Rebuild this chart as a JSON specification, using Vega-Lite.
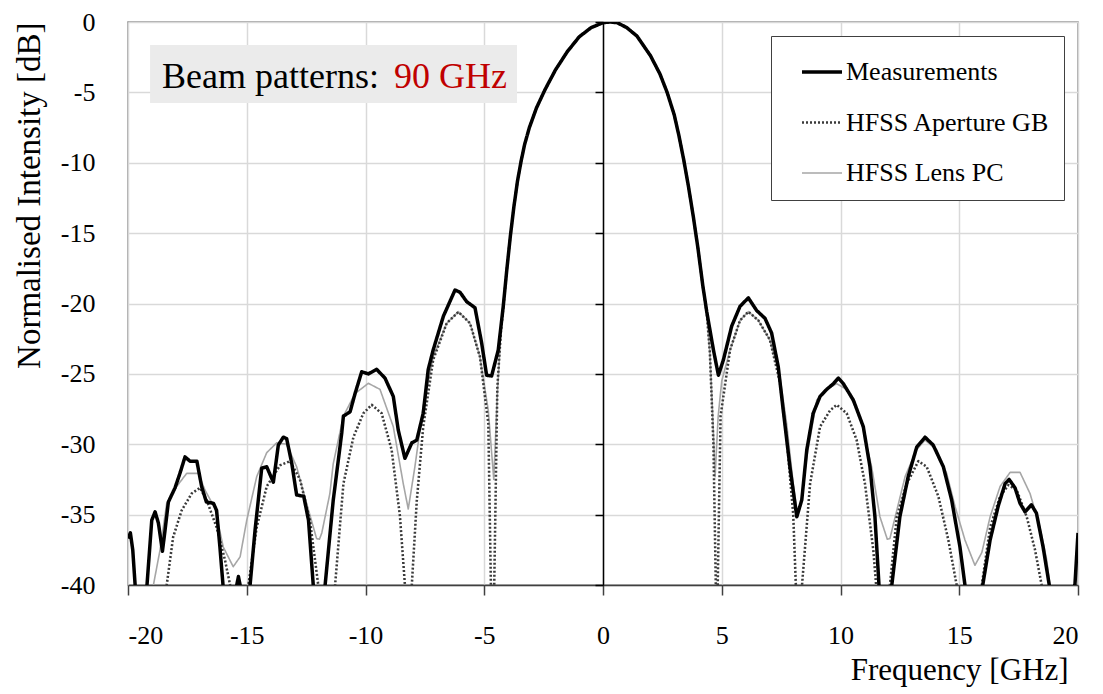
{
  "$schema": "https://vega.github.io/schema/vega-lite/v6.json",
  "width": 950,
  "height": 563,
  "autosize": {"type": "none"},
  "padding": {"left": 128, "top": 22, "right": 25, "bottom": 109},
  "background": "white",
  "config": {"view": {"stroke": "#8c8c8c", "strokeWidth": 1.5}, "font": "Liberation Serif"},
  "layer": [
    {
      "data": {"values": [
        {"f": -19.2, "v": -48, "s": "HFSS Lens PC"},
        {"f": -18.93, "v": -40, "s": "HFSS Lens PC"},
        {"f": -18.65, "v": -37.5, "s": "HFSS Lens PC"},
        {"f": -18.37, "v": -34.2, "s": "HFSS Lens PC"},
        {"f": -17.95, "v": -33.0, "s": "HFSS Lens PC"},
        {"f": -17.53, "v": -32.07, "s": "HFSS Lens PC"},
        {"f": -17.04, "v": -32.07, "s": "HFSS Lens PC"},
        {"f": -16.76, "v": -33.25, "s": "HFSS Lens PC"},
        {"f": -16.34, "v": -34.55, "s": "HFSS Lens PC"},
        {"f": -15.99, "v": -37.3, "s": "HFSS Lens PC"},
        {"f": -15.57, "v": -38.7, "s": "HFSS Lens PC"},
        {"f": -15.28, "v": -38.0, "s": "HFSS Lens PC"},
        {"f": -15.0, "v": -35.4, "s": "HFSS Lens PC"},
        {"f": -14.58, "v": -32.3, "s": "HFSS Lens PC"},
        {"f": -14.16, "v": -30.6, "s": "HFSS Lens PC"},
        {"f": -13.74, "v": -29.9, "s": "HFSS Lens PC"},
        {"f": -13.32, "v": -30.0, "s": "HFSS Lens PC"},
        {"f": -12.9, "v": -31.6, "s": "HFSS Lens PC"},
        {"f": -12.48, "v": -34.2, "s": "HFSS Lens PC"},
        {"f": -12.06, "v": -36.7, "s": "HFSS Lens PC"},
        {"f": -11.94, "v": -36.75, "s": "HFSS Lens PC"},
        {"f": -11.84, "v": -36.3, "s": "HFSS Lens PC"},
        {"f": -11.5, "v": -33.5, "s": "HFSS Lens PC"},
        {"f": -11.36, "v": -31.4, "s": "HFSS Lens PC"},
        {"f": -10.93, "v": -28.0, "s": "HFSS Lens PC"},
        {"f": -10.44, "v": -26.4, "s": "HFSS Lens PC"},
        {"f": -9.88, "v": -25.67, "s": "HFSS Lens PC"},
        {"f": -9.39, "v": -26.1, "s": "HFSS Lens PC"},
        {"f": -8.83, "v": -28.75, "s": "HFSS Lens PC"},
        {"f": -8.41, "v": -32.8, "s": "HFSS Lens PC"},
        {"f": -8.2, "v": -34.6, "s": "HFSS Lens PC"},
        {"f": -7.92, "v": -31.6, "s": "HFSS Lens PC"},
        {"f": -7.57, "v": -27.3, "s": "HFSS Lens PC"},
        {"f": -7.15, "v": -23.8, "s": "HFSS Lens PC"},
        {"f": -6.58, "v": -21.4, "s": "HFSS Lens PC"},
        {"f": -6.09, "v": -20.58, "s": "HFSS Lens PC"},
        {"f": -5.6, "v": -21.4, "s": "HFSS Lens PC"},
        {"f": -5.18, "v": -23.8, "s": "HFSS Lens PC"},
        {"f": -4.83, "v": -27.6, "s": "HFSS Lens PC"},
        {"f": -4.6, "v": -32.5, "s": "HFSS Lens PC"},
        {"f": -4.45, "v": -26.5, "s": "HFSS Lens PC"},
        {"f": -4.3, "v": -22.0, "s": "HFSS Lens PC"},
        {"f": -4.2, "v": -20.3, "s": "HFSS Lens PC"},
        {"f": -4.05, "v": -17.6, "s": "HFSS Lens PC"},
        {"f": -3.9, "v": -15.2, "s": "HFSS Lens PC"},
        {"f": -3.75, "v": -13.1, "s": "HFSS Lens PC"},
        {"f": -3.6, "v": -11.3, "s": "HFSS Lens PC"},
        {"f": -3.45, "v": -9.9, "s": "HFSS Lens PC"},
        {"f": -3.3, "v": -8.7, "s": "HFSS Lens PC"},
        {"f": -3.1, "v": -7.5, "s": "HFSS Lens PC"},
        {"f": -2.8, "v": -6.1, "s": "HFSS Lens PC"},
        {"f": -2.44, "v": -4.8, "s": "HFSS Lens PC"},
        {"f": -2.0, "v": -3.4, "s": "HFSS Lens PC"},
        {"f": -1.5, "v": -2.1, "s": "HFSS Lens PC"},
        {"f": -1.0, "v": -1.05, "s": "HFSS Lens PC"},
        {"f": -0.5, "v": -0.4, "s": "HFSS Lens PC"},
        {"f": 0.0, "v": -0.05, "s": "HFSS Lens PC"},
        {"f": 0.3, "v": 0.0, "s": "HFSS Lens PC"},
        {"f": 0.6, "v": -0.05, "s": "HFSS Lens PC"},
        {"f": 1.0, "v": -0.4, "s": "HFSS Lens PC"},
        {"f": 1.43, "v": -1.0, "s": "HFSS Lens PC"},
        {"f": 2.0, "v": -2.4, "s": "HFSS Lens PC"},
        {"f": 2.4, "v": -3.7, "s": "HFSS Lens PC"},
        {"f": 2.7, "v": -5.0, "s": "HFSS Lens PC"},
        {"f": 3.0, "v": -6.6, "s": "HFSS Lens PC"},
        {"f": 3.2, "v": -8.1, "s": "HFSS Lens PC"},
        {"f": 3.4, "v": -9.8, "s": "HFSS Lens PC"},
        {"f": 3.6, "v": -11.7, "s": "HFSS Lens PC"},
        {"f": 3.8, "v": -13.8, "s": "HFSS Lens PC"},
        {"f": 4.0, "v": -16.1, "s": "HFSS Lens PC"},
        {"f": 4.2, "v": -18.7, "s": "HFSS Lens PC"},
        {"f": 4.37, "v": -20.7, "s": "HFSS Lens PC"},
        {"f": 4.5, "v": -23.5, "s": "HFSS Lens PC"},
        {"f": 4.62, "v": -28.0, "s": "HFSS Lens PC"},
        {"f": 4.72, "v": -32.3, "s": "HFSS Lens PC"},
        {"f": 4.85, "v": -28.0, "s": "HFSS Lens PC"},
        {"f": 5.0, "v": -25.5, "s": "HFSS Lens PC"},
        {"f": 5.35, "v": -23.3, "s": "HFSS Lens PC"},
        {"f": 5.77, "v": -21.2, "s": "HFSS Lens PC"},
        {"f": 6.12, "v": -20.58, "s": "HFSS Lens PC"},
        {"f": 6.54, "v": -21.2, "s": "HFSS Lens PC"},
        {"f": 7.03, "v": -22.6, "s": "HFSS Lens PC"},
        {"f": 7.45, "v": -25.2, "s": "HFSS Lens PC"},
        {"f": 7.73, "v": -28.5, "s": "HFSS Lens PC"},
        {"f": 8.01, "v": -32.8, "s": "HFSS Lens PC"},
        {"f": 8.2, "v": -35.1, "s": "HFSS Lens PC"},
        {"f": 8.35, "v": -34.0, "s": "HFSS Lens PC"},
        {"f": 8.58, "v": -30.9, "s": "HFSS Lens PC"},
        {"f": 9.0, "v": -26.86, "s": "HFSS Lens PC"},
        {"f": 9.42, "v": -26.1, "s": "HFSS Lens PC"},
        {"f": 9.84, "v": -25.7, "s": "HFSS Lens PC"},
        {"f": 10.26, "v": -26.1, "s": "HFSS Lens PC"},
        {"f": 10.82, "v": -28.0, "s": "HFSS Lens PC"},
        {"f": 11.31, "v": -31.6, "s": "HFSS Lens PC"},
        {"f": 11.66, "v": -35.15, "s": "HFSS Lens PC"},
        {"f": 11.97, "v": -36.75, "s": "HFSS Lens PC"},
        {"f": 12.08, "v": -36.7, "s": "HFSS Lens PC"},
        {"f": 12.37, "v": -34.7, "s": "HFSS Lens PC"},
        {"f": 12.72, "v": -32.3, "s": "HFSS Lens PC"},
        {"f": 13.2, "v": -30.4, "s": "HFSS Lens PC"},
        {"f": 13.56, "v": -29.7, "s": "HFSS Lens PC"},
        {"f": 14.05, "v": -30.4, "s": "HFSS Lens PC"},
        {"f": 14.47, "v": -32.07, "s": "HFSS Lens PC"},
        {"f": 14.82, "v": -34.4, "s": "HFSS Lens PC"},
        {"f": 15.24, "v": -36.8, "s": "HFSS Lens PC"},
        {"f": 15.66, "v": -38.6, "s": "HFSS Lens PC"},
        {"f": 15.95, "v": -37.7, "s": "HFSS Lens PC"},
        {"f": 16.3, "v": -35.15, "s": "HFSS Lens PC"},
        {"f": 16.72, "v": -33.0, "s": "HFSS Lens PC"},
        {"f": 17.14, "v": -32.0, "s": "HFSS Lens PC"},
        {"f": 17.56, "v": -32.0, "s": "HFSS Lens PC"},
        {"f": 17.98, "v": -33.5, "s": "HFSS Lens PC"},
        {"f": 18.4, "v": -35.9, "s": "HFSS Lens PC"},
        {"f": 18.68, "v": -38.2, "s": "HFSS Lens PC"},
        {"f": 18.82, "v": -40, "s": "HFSS Lens PC"},
        {"f": 19.1, "v": -48, "s": "HFSS Lens PC"},

        {"f": -18.6, "v": -48, "s": "HFSS Aperture GB"},
        {"f": -18.37, "v": -40, "s": "HFSS Aperture GB"},
        {"f": -18.1, "v": -36.6, "s": "HFSS Aperture GB"},
        {"f": -17.74, "v": -34.7, "s": "HFSS Aperture GB"},
        {"f": -17.32, "v": -33.5, "s": "HFSS Aperture GB"},
        {"f": -16.97, "v": -33.1, "s": "HFSS Aperture GB"},
        {"f": -16.69, "v": -33.96, "s": "HFSS Aperture GB"},
        {"f": -16.27, "v": -35.9, "s": "HFSS Aperture GB"},
        {"f": -15.92, "v": -38.2, "s": "HFSS Aperture GB"},
        {"f": -15.7, "v": -40, "s": "HFSS Aperture GB"},
        {"f": -15.3, "v": -50, "s": "HFSS Aperture GB"},
        {"f": -14.93, "v": -40, "s": "HFSS Aperture GB"},
        {"f": -14.58, "v": -35.9, "s": "HFSS Aperture GB"},
        {"f": -14.16, "v": -33.0, "s": "HFSS Aperture GB"},
        {"f": -13.6, "v": -31.5, "s": "HFSS Aperture GB"},
        {"f": -13.18, "v": -31.2, "s": "HFSS Aperture GB"},
        {"f": -12.76, "v": -32.5, "s": "HFSS Aperture GB"},
        {"f": -12.34, "v": -35.4, "s": "HFSS Aperture GB"},
        {"f": -11.99, "v": -40, "s": "HFSS Aperture GB"},
        {"f": -11.63, "v": -50, "s": "HFSS Aperture GB"},
        {"f": -11.28, "v": -40, "s": "HFSS Aperture GB"},
        {"f": -10.93, "v": -32.8, "s": "HFSS Aperture GB"},
        {"f": -10.51, "v": -29.5, "s": "HFSS Aperture GB"},
        {"f": -10.09, "v": -27.8, "s": "HFSS Aperture GB"},
        {"f": -9.74, "v": -27.2, "s": "HFSS Aperture GB"},
        {"f": -9.32, "v": -27.8, "s": "HFSS Aperture GB"},
        {"f": -8.9, "v": -30.4, "s": "HFSS Aperture GB"},
        {"f": -8.55, "v": -35.1, "s": "HFSS Aperture GB"},
        {"f": -8.34, "v": -40, "s": "HFSS Aperture GB"},
        {"f": -8.2, "v": -50, "s": "HFSS Aperture GB"},
        {"f": -8.05, "v": -40, "s": "HFSS Aperture GB"},
        {"f": -7.84, "v": -34.0, "s": "HFSS Aperture GB"},
        {"f": -7.57, "v": -28.75, "s": "HFSS Aperture GB"},
        {"f": -7.15, "v": -24.0, "s": "HFSS Aperture GB"},
        {"f": -6.58, "v": -21.4, "s": "HFSS Aperture GB"},
        {"f": -6.09, "v": -20.6, "s": "HFSS Aperture GB"},
        {"f": -5.6, "v": -21.4, "s": "HFSS Aperture GB"},
        {"f": -5.18, "v": -23.8, "s": "HFSS Aperture GB"},
        {"f": -4.83, "v": -28.5, "s": "HFSS Aperture GB"},
        {"f": -4.72, "v": -40, "s": "HFSS Aperture GB"},
        {"f": -4.65, "v": -50, "s": "HFSS Aperture GB"},
        {"f": -4.58, "v": -40, "s": "HFSS Aperture GB"},
        {"f": -4.45, "v": -26.0, "s": "HFSS Aperture GB"},
        {"f": -4.3, "v": -22.0, "s": "HFSS Aperture GB"},
        {"f": -4.2, "v": -20.3, "s": "HFSS Aperture GB"},
        {"f": -4.05, "v": -17.6, "s": "HFSS Aperture GB"},
        {"f": -3.9, "v": -15.2, "s": "HFSS Aperture GB"},
        {"f": -3.75, "v": -13.1, "s": "HFSS Aperture GB"},
        {"f": -3.6, "v": -11.3, "s": "HFSS Aperture GB"},
        {"f": -3.45, "v": -9.9, "s": "HFSS Aperture GB"},
        {"f": -3.3, "v": -8.7, "s": "HFSS Aperture GB"},
        {"f": -3.1, "v": -7.5, "s": "HFSS Aperture GB"},
        {"f": -2.8, "v": -6.1, "s": "HFSS Aperture GB"},
        {"f": -2.44, "v": -4.8, "s": "HFSS Aperture GB"},
        {"f": -2.0, "v": -3.4, "s": "HFSS Aperture GB"},
        {"f": -1.5, "v": -2.1, "s": "HFSS Aperture GB"},
        {"f": -1.0, "v": -1.05, "s": "HFSS Aperture GB"},
        {"f": -0.5, "v": -0.4, "s": "HFSS Aperture GB"},
        {"f": 0.0, "v": -0.05, "s": "HFSS Aperture GB"},
        {"f": 0.3, "v": 0.0, "s": "HFSS Aperture GB"},
        {"f": 0.6, "v": -0.05, "s": "HFSS Aperture GB"},
        {"f": 1.0, "v": -0.4, "s": "HFSS Aperture GB"},
        {"f": 1.43, "v": -1.0, "s": "HFSS Aperture GB"},
        {"f": 2.0, "v": -2.4, "s": "HFSS Aperture GB"},
        {"f": 2.4, "v": -3.7, "s": "HFSS Aperture GB"},
        {"f": 2.7, "v": -5.0, "s": "HFSS Aperture GB"},
        {"f": 3.0, "v": -6.6, "s": "HFSS Aperture GB"},
        {"f": 3.2, "v": -8.1, "s": "HFSS Aperture GB"},
        {"f": 3.4, "v": -9.8, "s": "HFSS Aperture GB"},
        {"f": 3.6, "v": -11.7, "s": "HFSS Aperture GB"},
        {"f": 3.8, "v": -13.8, "s": "HFSS Aperture GB"},
        {"f": 4.0, "v": -16.1, "s": "HFSS Aperture GB"},
        {"f": 4.2, "v": -18.7, "s": "HFSS Aperture GB"},
        {"f": 4.37, "v": -20.7, "s": "HFSS Aperture GB"},
        {"f": 4.5, "v": -23.5, "s": "HFSS Aperture GB"},
        {"f": 4.65, "v": -30.0, "s": "HFSS Aperture GB"},
        {"f": 4.75, "v": -40, "s": "HFSS Aperture GB"},
        {"f": 4.79, "v": -50, "s": "HFSS Aperture GB"},
        {"f": 4.83, "v": -40, "s": "HFSS Aperture GB"},
        {"f": 4.95, "v": -28.0, "s": "HFSS Aperture GB"},
        {"f": 5.35, "v": -23.3, "s": "HFSS Aperture GB"},
        {"f": 5.77, "v": -21.2, "s": "HFSS Aperture GB"},
        {"f": 6.12, "v": -20.58, "s": "HFSS Aperture GB"},
        {"f": 6.54, "v": -21.2, "s": "HFSS Aperture GB"},
        {"f": 7.03, "v": -22.6, "s": "HFSS Aperture GB"},
        {"f": 7.45, "v": -25.6, "s": "HFSS Aperture GB"},
        {"f": 7.73, "v": -29.5, "s": "HFSS Aperture GB"},
        {"f": 8.01, "v": -35.0, "s": "HFSS Aperture GB"},
        {"f": 8.12, "v": -40, "s": "HFSS Aperture GB"},
        {"f": 8.25, "v": -50, "s": "HFSS Aperture GB"},
        {"f": 8.38, "v": -40, "s": "HFSS Aperture GB"},
        {"f": 8.72, "v": -32.8, "s": "HFSS Aperture GB"},
        {"f": 9.14, "v": -28.75, "s": "HFSS Aperture GB"},
        {"f": 9.56, "v": -27.6, "s": "HFSS Aperture GB"},
        {"f": 9.84, "v": -27.2, "s": "HFSS Aperture GB"},
        {"f": 10.26, "v": -27.8, "s": "HFSS Aperture GB"},
        {"f": 10.68, "v": -29.7, "s": "HFSS Aperture GB"},
        {"f": 11.03, "v": -32.8, "s": "HFSS Aperture GB"},
        {"f": 11.38, "v": -37.5, "s": "HFSS Aperture GB"},
        {"f": 11.5, "v": -40, "s": "HFSS Aperture GB"},
        {"f": 11.8, "v": -50, "s": "HFSS Aperture GB"},
        {"f": 12.08, "v": -40, "s": "HFSS Aperture GB"},
        {"f": 12.37, "v": -35.15, "s": "HFSS Aperture GB"},
        {"f": 12.79, "v": -32.8, "s": "HFSS Aperture GB"},
        {"f": 13.28, "v": -31.2, "s": "HFSS Aperture GB"},
        {"f": 13.63, "v": -31.6, "s": "HFSS Aperture GB"},
        {"f": 14.12, "v": -33.7, "s": "HFSS Aperture GB"},
        {"f": 14.54, "v": -36.8, "s": "HFSS Aperture GB"},
        {"f": 14.89, "v": -40, "s": "HFSS Aperture GB"},
        {"f": 15.4, "v": -50, "s": "HFSS Aperture GB"},
        {"f": 15.95, "v": -40, "s": "HFSS Aperture GB"},
        {"f": 16.3, "v": -35.9, "s": "HFSS Aperture GB"},
        {"f": 16.72, "v": -33.7, "s": "HFSS Aperture GB"},
        {"f": 17.07, "v": -32.9, "s": "HFSS Aperture GB"},
        {"f": 17.42, "v": -33.25, "s": "HFSS Aperture GB"},
        {"f": 17.84, "v": -35.15, "s": "HFSS Aperture GB"},
        {"f": 18.19, "v": -37.5, "s": "HFSS Aperture GB"},
        {"f": 18.47, "v": -40, "s": "HFSS Aperture GB"},
        {"f": 18.8, "v": -48, "s": "HFSS Aperture GB"},

        {"f": -20.0, "v": -36.7, "s": "Measurements"},
        {"f": -19.9, "v": -36.3, "s": "Measurements"},
        {"f": -19.8, "v": -37.5, "s": "Measurements"},
        {"f": -19.7, "v": -40, "s": "Measurements"},
        {"f": -19.45, "v": -50, "s": "Measurements"},
        {"f": -19.2, "v": -40, "s": "Measurements"},
        {"f": -19.0, "v": -35.4, "s": "Measurements"},
        {"f": -18.86, "v": -34.8, "s": "Measurements"},
        {"f": -18.72, "v": -35.6, "s": "Measurements"},
        {"f": -18.55, "v": -37.6, "s": "Measurements"},
        {"f": -18.44, "v": -36.1, "s": "Measurements"},
        {"f": -18.3, "v": -34.1, "s": "Measurements"},
        {"f": -18.02, "v": -33.1, "s": "Measurements"},
        {"f": -17.8, "v": -32.0, "s": "Measurements"},
        {"f": -17.6, "v": -30.9, "s": "Measurements"},
        {"f": -17.39, "v": -31.2, "s": "Measurements"},
        {"f": -17.1, "v": -31.2, "s": "Measurements"},
        {"f": -16.9, "v": -33.0, "s": "Measurements"},
        {"f": -16.7, "v": -34.1, "s": "Measurements"},
        {"f": -16.4, "v": -34.2, "s": "Measurements"},
        {"f": -16.27, "v": -34.7, "s": "Measurements"},
        {"f": -16.13, "v": -37.3, "s": "Measurements"},
        {"f": -16.0, "v": -40, "s": "Measurements"},
        {"f": -15.7, "v": -50, "s": "Measurements"},
        {"f": -15.42, "v": -40, "s": "Measurements"},
        {"f": -15.35, "v": -39.4, "s": "Measurements"},
        {"f": -15.28, "v": -40, "s": "Measurements"},
        {"f": -15.1, "v": -50, "s": "Measurements"},
        {"f": -14.86, "v": -40, "s": "Measurements"},
        {"f": -14.65, "v": -36.1, "s": "Measurements"},
        {"f": -14.37, "v": -31.7, "s": "Measurements"},
        {"f": -14.16, "v": -31.6, "s": "Measurements"},
        {"f": -13.88, "v": -32.7, "s": "Measurements"},
        {"f": -13.67, "v": -30.05, "s": "Measurements"},
        {"f": -13.46, "v": -29.5, "s": "Measurements"},
        {"f": -13.32, "v": -29.6, "s": "Measurements"},
        {"f": -13.1, "v": -31.4, "s": "Measurements"},
        {"f": -12.9, "v": -33.6, "s": "Measurements"},
        {"f": -12.6, "v": -33.7, "s": "Measurements"},
        {"f": -12.4, "v": -35.4, "s": "Measurements"},
        {"f": -12.2, "v": -40, "s": "Measurements"},
        {"f": -11.95, "v": -50, "s": "Measurements"},
        {"f": -11.7, "v": -40, "s": "Measurements"},
        {"f": -11.36, "v": -34.0, "s": "Measurements"},
        {"f": -11.0, "v": -29.2, "s": "Measurements"},
        {"f": -10.93, "v": -28.0, "s": "Measurements"},
        {"f": -10.65, "v": -27.7, "s": "Measurements"},
        {"f": -10.44, "v": -26.4, "s": "Measurements"},
        {"f": -10.16, "v": -24.85, "s": "Measurements"},
        {"f": -9.88, "v": -25.0, "s": "Measurements"},
        {"f": -9.53, "v": -24.68, "s": "Measurements"},
        {"f": -9.18, "v": -25.3, "s": "Measurements"},
        {"f": -8.83, "v": -26.6, "s": "Measurements"},
        {"f": -8.62, "v": -29.0, "s": "Measurements"},
        {"f": -8.34, "v": -31.0, "s": "Measurements"},
        {"f": -8.05, "v": -29.9, "s": "Measurements"},
        {"f": -7.84, "v": -29.7, "s": "Measurements"},
        {"f": -7.57, "v": -27.8, "s": "Measurements"},
        {"f": -7.36, "v": -24.7, "s": "Measurements"},
        {"f": -7.15, "v": -23.3, "s": "Measurements"},
        {"f": -6.72, "v": -20.9, "s": "Measurements"},
        {"f": -6.23, "v": -19.04, "s": "Measurements"},
        {"f": -6.02, "v": -19.2, "s": "Measurements"},
        {"f": -5.74, "v": -19.87, "s": "Measurements"},
        {"f": -5.39, "v": -20.3, "s": "Measurements"},
        {"f": -5.11, "v": -22.8, "s": "Measurements"},
        {"f": -4.9, "v": -25.1, "s": "Measurements"},
        {"f": -4.69, "v": -25.15, "s": "Measurements"},
        {"f": -4.41, "v": -23.3, "s": "Measurements"},
        {"f": -4.2, "v": -20.2, "s": "Measurements"},
        {"f": -4.05, "v": -17.6, "s": "Measurements"},
        {"f": -3.9, "v": -15.2, "s": "Measurements"},
        {"f": -3.75, "v": -13.1, "s": "Measurements"},
        {"f": -3.6, "v": -11.3, "s": "Measurements"},
        {"f": -3.45, "v": -9.9, "s": "Measurements"},
        {"f": -3.3, "v": -8.7, "s": "Measurements"},
        {"f": -3.1, "v": -7.5, "s": "Measurements"},
        {"f": -2.8, "v": -6.1, "s": "Measurements"},
        {"f": -2.44, "v": -4.8, "s": "Measurements"},
        {"f": -2.0, "v": -3.4, "s": "Measurements"},
        {"f": -1.5, "v": -2.1, "s": "Measurements"},
        {"f": -1.0, "v": -1.05, "s": "Measurements"},
        {"f": -0.5, "v": -0.4, "s": "Measurements"},
        {"f": 0.0, "v": -0.05, "s": "Measurements"},
        {"f": 0.3, "v": 0.0, "s": "Measurements"},
        {"f": 0.6, "v": -0.05, "s": "Measurements"},
        {"f": 1.0, "v": -0.4, "s": "Measurements"},
        {"f": 1.43, "v": -1.0, "s": "Measurements"},
        {"f": 2.0, "v": -2.4, "s": "Measurements"},
        {"f": 2.4, "v": -3.7, "s": "Measurements"},
        {"f": 2.7, "v": -5.0, "s": "Measurements"},
        {"f": 3.0, "v": -6.6, "s": "Measurements"},
        {"f": 3.2, "v": -8.1, "s": "Measurements"},
        {"f": 3.4, "v": -9.8, "s": "Measurements"},
        {"f": 3.6, "v": -11.7, "s": "Measurements"},
        {"f": 3.8, "v": -13.8, "s": "Measurements"},
        {"f": 4.0, "v": -16.1, "s": "Measurements"},
        {"f": 4.2, "v": -18.7, "s": "Measurements"},
        {"f": 4.37, "v": -20.6, "s": "Measurements"},
        {"f": 4.65, "v": -23.3, "s": "Measurements"},
        {"f": 4.86, "v": -25.1, "s": "Measurements"},
        {"f": 5.07, "v": -24.0, "s": "Measurements"},
        {"f": 5.42, "v": -21.6, "s": "Measurements"},
        {"f": 5.77, "v": -20.2, "s": "Measurements"},
        {"f": 6.12, "v": -19.6, "s": "Measurements"},
        {"f": 6.47, "v": -20.5, "s": "Measurements"},
        {"f": 6.82, "v": -21.05, "s": "Measurements"},
        {"f": 7.1, "v": -22.1, "s": "Measurements"},
        {"f": 7.38, "v": -24.5, "s": "Measurements"},
        {"f": 7.59, "v": -27.6, "s": "Measurements"},
        {"f": 7.87, "v": -31.6, "s": "Measurements"},
        {"f": 8.16, "v": -35.15, "s": "Measurements"},
        {"f": 8.37, "v": -33.96, "s": "Measurements"},
        {"f": 8.58, "v": -30.4, "s": "Measurements"},
        {"f": 8.85, "v": -27.8, "s": "Measurements"},
        {"f": 9.14, "v": -26.6, "s": "Measurements"},
        {"f": 9.42, "v": -26.1, "s": "Measurements"},
        {"f": 9.7, "v": -25.7, "s": "Measurements"},
        {"f": 9.91, "v": -25.3, "s": "Measurements"},
        {"f": 10.12, "v": -25.7, "s": "Measurements"},
        {"f": 10.54, "v": -26.86, "s": "Measurements"},
        {"f": 10.96, "v": -28.75, "s": "Measurements"},
        {"f": 11.24, "v": -31.6, "s": "Measurements"},
        {"f": 11.45, "v": -35.15, "s": "Measurements"},
        {"f": 11.62, "v": -40, "s": "Measurements"},
        {"f": 11.9, "v": -50, "s": "Measurements"},
        {"f": 12.16, "v": -40, "s": "Measurements"},
        {"f": 12.5, "v": -35.15, "s": "Measurements"},
        {"f": 12.85, "v": -32.3, "s": "Measurements"},
        {"f": 13.21, "v": -30.2, "s": "Measurements"},
        {"f": 13.56, "v": -29.5, "s": "Measurements"},
        {"f": 13.9, "v": -30.05, "s": "Measurements"},
        {"f": 14.33, "v": -31.6, "s": "Measurements"},
        {"f": 14.68, "v": -33.96, "s": "Measurements"},
        {"f": 15.03, "v": -37.3, "s": "Measurements"},
        {"f": 15.24, "v": -40, "s": "Measurements"},
        {"f": 15.6, "v": -50, "s": "Measurements"},
        {"f": 15.99, "v": -40, "s": "Measurements"},
        {"f": 16.3, "v": -36.8, "s": "Measurements"},
        {"f": 16.64, "v": -34.4, "s": "Measurements"},
        {"f": 16.93, "v": -32.8, "s": "Measurements"},
        {"f": 17.1, "v": -32.5, "s": "Measurements"},
        {"f": 17.35, "v": -33.1, "s": "Measurements"},
        {"f": 17.56, "v": -34.2, "s": "Measurements"},
        {"f": 17.77, "v": -34.8, "s": "Measurements"},
        {"f": 18.04, "v": -34.3, "s": "Measurements"},
        {"f": 18.25, "v": -34.9, "s": "Measurements"},
        {"f": 18.53, "v": -37.3, "s": "Measurements"},
        {"f": 18.79, "v": -40, "s": "Measurements"},
        {"f": 19.3, "v": -50, "s": "Measurements"},
        {"f": 19.87, "v": -40, "s": "Measurements"},
        {"f": 20.0, "v": -36.3, "s": "Measurements"}
      ]},
      "mark": {"type": "line", "clip": true, "strokeJoin": "round", "strokeCap": "butt"},
      "encoding": {
        "x": {
          "field": "f", "type": "quantitative",
          "scale": {"domain": [-20, 20], "nice": false, "zero": false},
          "axis": {
            "values": [-20, -15, -10, -5, 0, 5, 10, 15, 20],
            "labelExpr": "replace(datum.label, '\u2212', '-')",
            "tickSize": 10, "tickColor": "#404040", "tickWidth": 1.5,
            "domainColor": "#404040", "domainWidth": 1.5,
            "labelPadding": 27, "labelFontSize": 26, "labelFont": "Liberation Serif", "labelColor": "black",
            "title": "Frequency [GHz]", "titleFontSize": 31, "titleFont": "Liberation Serif",
            "titleFontWeight": "normal", "titleColor": "black", "titleAnchor": "end", "titleX": 940, "titleAlign": "right", "titlePadding": 7,
            "gridColor": "#d9d9d9", "gridWidth": 1.5
          }
        },
        "y": {
          "field": "v", "type": "quantitative",
          "scale": {"domain": [-40, 0], "nice": false, "zero": false},
          "axis": {
            "values": [0, -5, -10, -15, -20, -25, -30, -35, -40],
            "labelExpr": "replace(datum.label, '\u2212', '-')",
            "offset": -475, "tickSize": 8, "tickColor": "black", "tickWidth": 1.5,
            "domainColor": "black", "domainWidth": 1.5,
            "labelPadding": 500, "labelFontSize": 26, "labelFont": "Liberation Serif", "labelColor": "black",
            "title": "Normalised Intensity [dB]", "titleFontSize": 33, "titleFont": "Liberation Serif",
            "titleFontWeight": "normal", "titleColor": "black", "titleAnchor": "end", "titlePadding": 357,
            "gridColor": "#d9d9d9", "gridWidth": 1.5
          }
        },
        "color": {
          "field": "s", "type": "nominal",
          "scale": {"domain": ["Measurements", "HFSS Aperture GB", "HFSS Lens PC"], "range": ["#000000", "#3a3a3a", "#a6a6a6"]},
          "legend": {
            "orient": "top-right", "offset": 14, "title": null,
            "fillColor": "white", "strokeColor": "#404040", "padding": 14,
            "symbolType": "stroke", "symbolSize": 1600, "symbolOffset": 15, "labelOffset": 2,
            "labelExpr": "datum.label + '\u00a0\u00a0\u00a0\u00a0'",
            "labelFontSize": 26, "labelFont": "Liberation Serif", "labelColor": "black", "labelLimit": 500,
            "rowPadding": 16
          }
        },
        "strokeDash": {
          "field": "s", "type": "nominal",
          "scale": {"domain": ["Measurements", "HFSS Aperture GB", "HFSS Lens PC"], "range": [[1, 0], [2, 2], [1, 0]]},
          "legend": null
        },
        "strokeWidth": {
          "field": "s", "type": "nominal",
          "scale": {"domain": ["Measurements", "HFSS Aperture GB", "HFSS Lens PC"], "range": [3.5, 1.6, 2]},
          "legend": null
        }
      }
    },
    {
      "data": {"values": [{}]},
      "mark": {"type": "rect", "fill": "#ebebeb"},
      "encoding": {
        "x": {"datum": -19.07}, "x2": {"datum": -3.62},
        "y": {"datum": -1.63}, "y2": {"datum": -5.75}
      }
    },
    {
      "data": {"values": [{"t": "Beam patterns:"}]},
      "mark": {"type": "text", "align": "left", "baseline": "alphabetic", "fontSize": 36, "font": "Liberation Serif", "color": "black"},
      "encoding": {"x": {"datum": -18.57}, "y": {"datum": -4.69}, "text": {"field": "t"}}
    },
    {
      "data": {"values": [{"t": "90 GHz"}]},
      "mark": {"type": "text", "align": "right", "baseline": "alphabetic", "fontSize": 36, "font": "Liberation Serif", "color": "#c00000"},
      "encoding": {"x": {"datum": -4.04}, "y": {"datum": -4.69}, "text": {"field": "t"}}
    }
  ]
}
